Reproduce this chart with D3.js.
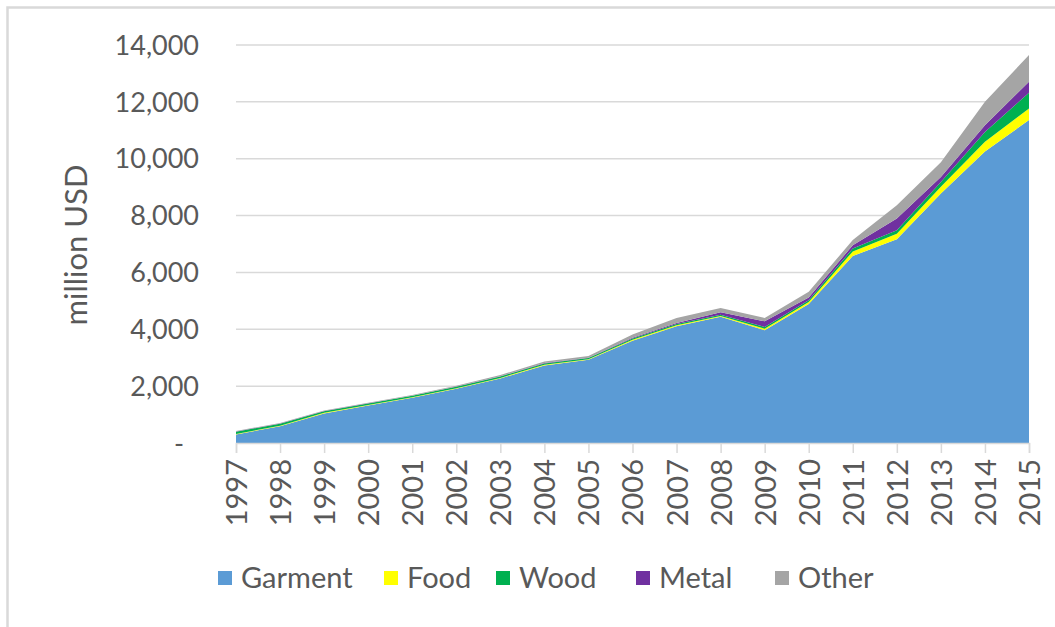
<!DOCTYPE html>
<html><head><meta charset="utf-8">
<script src="https://cdn.jsdelivr.net/npm/d3@7/dist/d3.min.js"></script>
<style>body{margin:0;background:#fff;}svg{display:block;}</style>
</head><body>
<svg id="c" width="1055" height="627"></svg>
<script>
const years = [1997,1998,1999,2000,2001,2002,2003,2004,2005,2006,2007,2008,2009,2010,2011,2012,2013,2014,2015];
const garment = [300,590,1040,1320,1590,1910,2270,2730,2930,3600,4110,4440,3970,4890,6580,7170,8780,10250,11360];
const food    = [20,20,20,20,20,20,20,20,20,30,30,30,50,70,160,190,230,350,410];
const wood    = [80,70,60,50,50,50,50,50,40,50,50,40,60,60,100,120,170,340,550];
const metal   = [5,5,5,5,5,5,10,10,10,20,30,90,200,100,120,420,180,240,390];
const other   = [20,20,20,20,20,30,40,60,60,120,180,150,120,200,180,460,520,820,940];
const seriesNames = ["Garment","Food","Wood","Metal","Other"];
const colors = ["#5b9bd5","#ffff00","#00b050","#7030a0","#a5a5a5"];
const yTicks = [0,2000,4000,6000,8000,10000,12000,14000];

const svg = d3.select("#c");
const font = "Lato, 'Open Sans', sans-serif";
const txt = "#595959";

// outer border
svg.append("rect").attr("x",7.5).attr("y",7.5).attr("width",1200).attr("height",1200)
  .attr("fill","none").attr("stroke","#d9d9d9").attr("stroke-width",2.5);

const x = d3.scalePoint().domain(years).range([236,1029]);
const y = d3.scaleLinear().domain([0,14000]).range([443,45]);

const table = years.map((yr,i)=>({year:yr,Garment:garment[i],Food:food[i],Wood:wood[i],Metal:metal[i],Other:other[i]}));
const stack = d3.stack().keys(seriesNames)(table);

// gridlines
svg.append("g").selectAll("line").data(yTicks.slice(1)).join("line")
  .attr("x1",236).attr("x2",1029).attr("y1",d=>y(d)).attr("y2",d=>y(d))
  .attr("stroke","#d9d9d9").attr("stroke-width",1.5);

const area = d3.area().x(d=>x(d.data.year)).y0(d=>y(d[0])).y1(d=>y(d[1]));
svg.append("g").selectAll("path").data(stack).join("path")
  .attr("d",area).attr("fill",(d,i)=>colors[i]);

// y axis labels
svg.append("g").selectAll("text").data(yTicks).join("text")
  .attr("x",d=>d===0?184:199).attr("y",d=>y(d)).attr("dy","0.36em")
  .attr("text-anchor","end").attr("font-family",font).attr("font-size",27).attr("fill",txt)
  .text(d=>d===0?"-":d3.format(",")(d));

// x axis
const xAxis = d3.axisBottom(x).tickSize(10).tickFormat(d=>d);
const gx = svg.append("g").attr("transform","translate(0,443)").call(xAxis);
gx.select(".domain").attr("stroke","#d9d9d9").attr("stroke-width",1.5);
gx.selectAll(".tick line").attr("stroke","#d9d9d9").attr("stroke-width",1.5);
gx.selectAll(".tick text").attr("font-family",font).attr("font-size",29).attr("fill",txt)
  .attr("transform","rotate(-90)").attr("text-anchor","end").attr("x",-16).attr("y",0).attr("dy","0.36em");

// y title
svg.append("text").attr("transform","translate(87,245) rotate(-90)").attr("text-anchor","middle")
  .attr("font-family",font).attr("font-size",31).attr("fill",txt).text("million USD");

// legend
const legX = [218,384,496,636,775];
const lg = svg.append("g").selectAll("g").data(seriesNames).join("g")
  .attr("transform",(d,i)=>`translate(${legX[i]},578)`);
lg.append("rect").attr("x",0).attr("y",-7).attr("width",14).attr("height",14).attr("fill",(d,i)=>colors[i]);
lg.append("text").attr("x",23).attr("dy","0.36em").attr("font-family",font).attr("font-size",29)
  .attr("fill",txt).text(d=>d);
</script>
</body></html>
